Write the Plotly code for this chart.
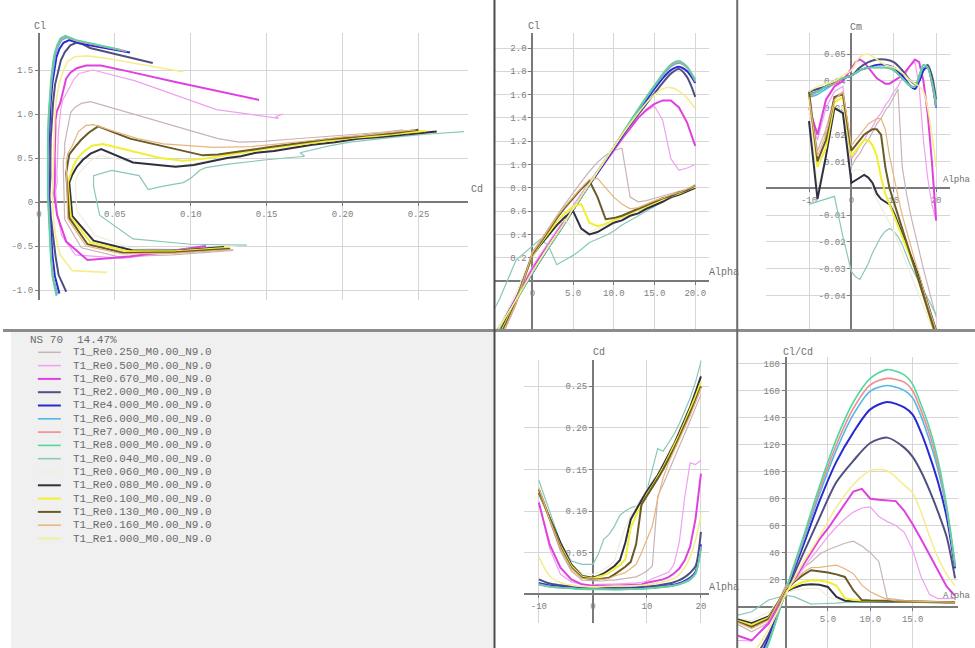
import numpy as np
import plotly.graph_objects as go

W, H = 975, 648

# ---------------- data ----------------
ALPHA_FINE = [-10, -8, -6, -4, -2, 0, 1, 2, 3, 4, 5, 6, 7, 8, 9, 10, 11, 12, 13, 14, 15, 16, 17, 18, 19, 20]
ALPHA_COARSE = [-10, -8, -6, -4, -2, 0, 2, 4, 6, 8, 10, 12, 14, 15, 16, 17, 18, 19, 20]

LEGEND_HEADER = ["NS 70", "14.47%"]
POLAR_NAMES = [
    "T1_Re0.250_M0.00_N9.0", "T1_Re0.500_M0.00_N9.0", "T1_Re0.670_M0.00_N9.0",
    "T1_Re2.000_M0.00_N9.0", "T1_Re4.000_M0.00_N9.0", "T1_Re6.000_M0.00_N9.0",
    "T1_Re7.000_M0.00_N9.0", "T1_Re8.000_M0.00_N9.0", "T1_Re0.040_M0.00_N9.0",
    "T1_Re0.060_M0.00_N9.0", "T1_Re0.080_M0.00_N9.0", "T1_Re0.100_M0.00_N9.0",
    "T1_Re0.130_M0.00_N9.0", "T1_Re0.160_M0.00_N9.0", "T1_Re1.000_M0.00_N9.0",
]
POLAR_COLORS = [
    "#c8b4b4", "#f0a0f0", "#e040e0", "#505080", "#2a2ad0", "#50b8e8", "#f08c8c",
    "#50d8a0", "#88c8b8", "#eeeedd", "#303040", "#f0f030", "#6a5a28", "#e8b47c", "#f4ee90",
]
POLAR_WIDTHS = [1.2, 1.2, 2, 2, 2, 1.6, 1.6, 1.6, 1.2, 1.2, 2, 2, 2, 1.2, 1.6]

# Re 0.250
CL_RE0250 = [-0.55, -0.60, -0.62, -0.52, -0.20, 0.25, 0.35, 0.46, 0.56, 0.66, 0.76, 0.85, 0.94, 1.02, 1.08, 1.12, 1.14, 0.72, 0.68, 0.69, 0.71, 0.73, 0.75, 0.77, 0.79, 0.82]
CD_RE0250 = [0.128, 0.088, 0.052, 0.028, 0.017, 0.016, 0.016, 0.016, 0.017, 0.017, 0.018, 0.019, 0.020, 0.021, 0.024, 0.028, 0.034, 0.118, 0.132, 0.148, 0.163, 0.178, 0.193, 0.208, 0.224, 0.240]
CM_RE0250 = [0.034, 0.014, 0.022, 0.034, 0.036, 0.008, 0.011, 0.013, 0.016, 0.018, 0.021, 0.024, 0.026, 0.029, 0.031, 0.034, 0.037, 0.008, -0.002, -0.010, -0.017, -0.024, -0.030, -0.036, -0.042, -0.048]
# Re 0.500
CL_RE0500 = [-0.52, -0.64, -0.60, -0.38, -0.13, 0.12, 0.23, 0.33, 0.44, 0.54, 0.65, 0.75, 0.86, 0.96, 1.06, 1.16, 1.25, 1.33, 1.40, 1.46, 1.50, 1.38, 1.05, 0.95, 0.97, 1.00]
CD_RE0500 = [0.112, 0.055, 0.024, 0.015, 0.012, 0.0110, 0.0121, 0.0118, 0.0122, 0.0123, 0.0125, 0.0127, 0.0132, 0.0137, 0.0145, 0.0157, 0.0187, 0.0211, 0.0233, 0.0265, 0.0357, 0.063, 0.117, 0.158, 0.156, 0.161]
CM_RE0500 = [0.028, 0.018, 0.030, 0.036, 0.038, 0.011, 0.013, 0.016, 0.018, 0.021, 0.023, 0.026, 0.028, 0.031, 0.033, 0.036, 0.038, 0.041, 0.043, 0.046, 0.047, 0.038, 0.018, 0.004, -0.006, -0.012]
# Re 0.670
CL_RE0670 = [-0.50, -0.62, -0.66, -0.45, -0.15, 0.10, 0.21, 0.31, 0.42, 0.52, 0.62, 0.73, 0.83, 0.93, 1.03, 1.12, 1.22, 1.31, 1.40, 1.47, 1.52, 1.55, 1.55, 1.49, 1.36, 1.16]
CD_RE0670 = [0.110, 0.060, 0.032, 0.018, 0.012, 0.0100, 0.0105, 0.0103, 0.0105, 0.0104, 0.0107, 0.0109, 0.0109, 0.0109, 0.0118, 0.0140, 0.0154, 0.0166, 0.0179, 0.0207, 0.0249, 0.0310, 0.0408, 0.0573, 0.0907, 0.145]
CM_RE0670 = [0.030, 0.020, 0.033, 0.038, 0.040, 0.045, 0.047, 0.048, 0.047, 0.045, 0.043, 0.041, 0.040, 0.039, 0.039, 0.040, 0.041, 0.042, 0.044, 0.046, 0.048, 0.047, 0.040, 0.028, 0.010, -0.012]
# Re 2.000
CL_RE2000 = [-1.02, -0.83, -0.62, -0.39, -0.16, 0.07, 0.29, 0.50, 0.72, 0.93, 1.14, 1.34, 1.52, 1.61, 1.70, 1.78, 1.82, 1.75, 1.58]
CD_RE2000 = [0.018, 0.013, 0.011, 0.0095, 0.0078, 0.0070, 0.0076, 0.0076, 0.0078, 0.0086, 0.0094, 0.0107, 0.0129, 0.0145, 0.0170, 0.0207, 0.026, 0.0337, 0.075]
CM_RE2000 = [0.036, 0.037, 0.038, 0.040, 0.041, 0.042, 0.045, 0.047, 0.048, 0.048, 0.047, 0.044, 0.040, 0.039, 0.040, 0.044, 0.046, 0.042, 0.033]
# Re 4.000
CL_RE4000 = [-1.04, -0.84, -0.62, -0.39, -0.16, 0.07, 0.29, 0.50, 0.72, 0.93, 1.14, 1.35, 1.55, 1.65, 1.74, 1.81, 1.84, 1.80, 1.70]
CD_RE4000 = [0.0135, 0.0105, 0.0090, 0.0080, 0.0070, 0.0065, 0.0066, 0.0064, 0.0067, 0.0072, 0.0078, 0.0089, 0.0105, 0.0116, 0.0135, 0.0162, 0.0200, 0.0270, 0.0600]
CM_RE4000 = [0.035, 0.036, 0.038, 0.039, 0.041, 0.042, 0.044, 0.045, 0.046, 0.046, 0.045, 0.042, 0.038, 0.037, 0.040, 0.044, 0.045, 0.040, 0.030]
# Re 6.000
CL_RE6000 = [-1.05, -0.85, -0.63, -0.40, -0.17, 0.07, 0.29, 0.50, 0.72, 0.94, 1.15, 1.36, 1.57, 1.67, 1.76, 1.84, 1.87, 1.83, 1.71]
CD_RE6000 = [0.0122, 0.0095, 0.0082, 0.0074, 0.0066, 0.0062, 0.0062, 0.0060, 0.0062, 0.0066, 0.0072, 0.0083, 0.0098, 0.0108, 0.0125, 0.0150, 0.0185, 0.0255, 0.0580]
CM_RE6000 = [0.034, 0.035, 0.037, 0.039, 0.041, 0.042, 0.044, 0.045, 0.045, 0.045, 0.044, 0.041, 0.038, 0.038, 0.041, 0.045, 0.045, 0.039, 0.030]
# Re 7.000
CL_RE7000 = [-1.06, -0.85, -0.63, -0.40, -0.17, 0.07, 0.29, 0.50, 0.72, 0.94, 1.15, 1.37, 1.58, 1.68, 1.77, 1.85, 1.88, 1.83, 1.72]
CD_RE7000 = [0.0118, 0.0092, 0.0080, 0.0072, 0.0064, 0.0060, 0.0060, 0.0058, 0.0060, 0.0064, 0.0070, 0.0081, 0.0095, 0.0105, 0.0122, 0.0145, 0.0180, 0.0250, 0.0560]
CM_RE7000 = [0.034, 0.036, 0.038, 0.039, 0.041, 0.042, 0.044, 0.045, 0.045, 0.045, 0.044, 0.041, 0.038, 0.038, 0.042, 0.046, 0.045, 0.039, 0.031]
# Re 8.000
CL_RE8000 = [-1.07, -0.86, -0.64, -0.40, -0.17, 0.07, 0.29, 0.50, 0.72, 0.94, 1.15, 1.37, 1.58, 1.68, 1.78, 1.86, 1.89, 1.84, 1.73]
CD_RE8000 = [0.0115, 0.0090, 0.0078, 0.0070, 0.0062, 0.0058, 0.0058, 0.0056, 0.0058, 0.0062, 0.0068, 0.0078, 0.0092, 0.0102, 0.0119, 0.0141, 0.0175, 0.0245, 0.0540]
CM_RE8000 = [0.035, 0.036, 0.038, 0.040, 0.041, 0.042, 0.044, 0.045, 0.045, 0.045, 0.044, 0.041, 0.038, 0.038, 0.042, 0.046, 0.045, 0.040, 0.032]
# Re 0.040
CL_RE0040 = [-0.49, -0.48, -0.42, -0.15, 0.18, 0.30, 0.36, 0.30, 0.14, 0.18, 0.22, 0.27, 0.33, 0.36, 0.39, 0.43, 0.48, 0.52, 0.56, 0.60, 0.64, 0.68, 0.71, 0.74, 0.77, 0.80]
CD_RE0040 = [0.137, 0.100, 0.062, 0.040, 0.036, 0.036, 0.048, 0.066, 0.072, 0.082, 0.095, 0.100, 0.104, 0.106, 0.110, 0.125, 0.150, 0.175, 0.172, 0.182, 0.192, 0.205, 0.220, 0.236, 0.255, 0.280]
CM_RE0040 = [-0.006, -0.005, -0.004, -0.003, -0.018, -0.031, -0.033, -0.034, -0.031, -0.028, -0.024, -0.021, -0.018, -0.016, -0.015, -0.016, -0.018, -0.021, -0.025, -0.029, -0.032, -0.035, -0.038, -0.041, -0.044, -0.047]
# Re 0.060
CL_RE0060 = [-0.50, -0.54, -0.52, -0.38, -0.10, 0.24, 0.32, 0.40, 0.47, 0.53, 0.45, 0.41, 0.42, 0.45, 0.48, 0.51, 0.54, 0.57, 0.60, 0.63, 0.66, 0.69, 0.72, 0.75, 0.78, 0.81]
CD_RE0060 = [0.130, 0.095, 0.060, 0.037, 0.025, 0.024, 0.026, 0.030, 0.034, 0.040, 0.062, 0.080, 0.095, 0.106, 0.116, 0.126, 0.136, 0.146, 0.158, 0.170, 0.183, 0.197, 0.211, 0.226, 0.242, 0.260]
CM_RE0060 = [0.030, 0.000, 0.012, 0.030, 0.030, 0.006, 0.007, 0.007, 0.006, 0.004, 0.000, -0.004, -0.007, -0.010, -0.013, -0.016, -0.020, -0.024, -0.028, -0.032, -0.036, -0.040, -0.044, -0.048, -0.052, -0.056]
# Re 0.080
CL_RE0080 = [-0.51, -0.55, -0.55, -0.44, -0.16, 0.22, 0.31, 0.40, 0.48, 0.55, 0.60, 0.45, 0.40, 0.42, 0.46, 0.50, 0.52, 0.56, 0.58, 0.62, 0.65, 0.68, 0.72, 0.74, 0.77, 0.80]
CD_RE0080 = [0.122, 0.092, 0.062, 0.036, 0.022, 0.020, 0.022, 0.025, 0.029, 0.034, 0.041, 0.062, 0.090, 0.102, 0.113, 0.124, 0.133, 0.143, 0.155, 0.168, 0.180, 0.195, 0.210, 0.225, 0.243, 0.262]
CM_RE0080 = [0.025, -0.004, 0.012, 0.030, 0.028, 0.002, 0.003, 0.004, 0.005, 0.004, 0.002, -0.002, -0.004, -0.005, -0.006, -0.009, -0.013, -0.017, -0.021, -0.025, -0.029, -0.033, -0.038, -0.043, -0.048, -0.053]
# Re 0.100
CL_RE0100 = [-0.52, -0.56, -0.56, -0.46, -0.17, 0.22, 0.32, 0.42, 0.51, 0.58, 0.64, 0.66, 0.50, 0.47, 0.49, 0.52, 0.55, 0.58, 0.61, 0.64, 0.67, 0.70, 0.73, 0.75, 0.78, 0.81]
CD_RE0100 = [0.125, 0.090, 0.058, 0.034, 0.021, 0.019, 0.021, 0.023, 0.026, 0.030, 0.035, 0.042, 0.080, 0.095, 0.108, 0.120, 0.130, 0.141, 0.152, 0.165, 0.178, 0.192, 0.207, 0.222, 0.238, 0.255]
CM_RE0100 = [0.035, 0.008, 0.015, 0.032, 0.034, 0.012, 0.014, 0.016, 0.018, 0.018, 0.016, 0.012, 0.004, -0.002, -0.006, -0.010, -0.014, -0.018, -0.022, -0.026, -0.030, -0.035, -0.040, -0.045, -0.050, -0.056]
# Re 0.130
CL_RE0130 = [-0.53, -0.57, -0.58, -0.48, -0.18, 0.23, 0.33, 0.44, 0.54, 0.63, 0.71, 0.79, 0.86, 0.72, 0.53, 0.54, 0.56, 0.59, 0.62, 0.65, 0.68, 0.71, 0.73, 0.76, 0.78, 0.82]
CD_RE0130 = [0.126, 0.090, 0.056, 0.032, 0.020, 0.018, 0.018, 0.019, 0.020, 0.024, 0.028, 0.033, 0.039, 0.060, 0.108, 0.118, 0.128, 0.139, 0.150, 0.162, 0.175, 0.189, 0.203, 0.218, 0.233, 0.250]
CM_RE0130 = [0.036, 0.010, 0.018, 0.034, 0.035, 0.014, 0.016, 0.018, 0.020, 0.021, 0.022, 0.022, 0.020, 0.008, 0.000, -0.005, -0.010, -0.015, -0.020, -0.025, -0.030, -0.035, -0.040, -0.045, -0.050, -0.055]
# Re 0.160
CL_RE0160 = [-0.54, -0.58, -0.59, -0.50, -0.19, 0.24, 0.34, 0.45, 0.55, 0.64, 0.72, 0.80, 0.87, 0.88, 0.80, 0.72, 0.66, 0.62, 0.63, 0.66, 0.69, 0.71, 0.74, 0.76, 0.79, 0.82]
CD_RE0160 = [0.128, 0.090, 0.055, 0.031, 0.019, 0.018, 0.018, 0.018, 0.019, 0.022, 0.024, 0.026, 0.031, 0.036, 0.050, 0.065, 0.082, 0.115, 0.140, 0.158, 0.172, 0.186, 0.200, 0.215, 0.231, 0.248]
CM_RE0160 = [0.034, 0.012, 0.020, 0.033, 0.036, 0.016, 0.018, 0.020, 0.022, 0.024, 0.025, 0.026, 0.026, 0.022, 0.012, 0.004, -0.003, -0.010, -0.016, -0.022, -0.027, -0.032, -0.038, -0.043, -0.048, -0.053]
# Re 1.000
CL_RE1000 = [-0.80, -0.78, -0.60, -0.39, -0.16, 0.08, 0.30, 0.51, 0.73, 0.94, 1.15, 1.35, 1.53, 1.60, 1.65, 1.66, 1.63, 1.57, 1.48]
CD_RE1000 = [0.045, 0.022, 0.014, 0.011, 0.0095, 0.0089, 0.0094, 0.0098, 0.0099, 0.0104, 0.0114, 0.0134, 0.0170, 0.0190, 0.0236, 0.0320, 0.0450, 0.0650, 0.0950]
CM_RE1000 = [0.036, 0.038, 0.039, 0.040, 0.042, 0.044, 0.049, 0.050, 0.048, 0.046, 0.045, 0.043, 0.040, 0.039, 0.038, 0.036, 0.030, 0.020, 0.008]

SERIES_DATA = [
    (ALPHA_FINE, CL_RE0250, CD_RE0250, CM_RE0250),
    (ALPHA_FINE, CL_RE0500, CD_RE0500, CM_RE0500),
    (ALPHA_FINE, CL_RE0670, CD_RE0670, CM_RE0670),
    (ALPHA_COARSE, CL_RE2000, CD_RE2000, CM_RE2000),
    (ALPHA_COARSE, CL_RE4000, CD_RE4000, CM_RE4000),
    (ALPHA_COARSE, CL_RE6000, CD_RE6000, CM_RE6000),
    (ALPHA_COARSE, CL_RE7000, CD_RE7000, CM_RE7000),
    (ALPHA_COARSE, CL_RE8000, CD_RE8000, CM_RE8000),
    (ALPHA_FINE, CL_RE0040, CD_RE0040, CM_RE0040),
    (ALPHA_FINE, CL_RE0060, CD_RE0060, CM_RE0060),
    (ALPHA_FINE, CL_RE0080, CD_RE0080, CM_RE0080),
    (ALPHA_FINE, CL_RE0100, CD_RE0100, CM_RE0100),
    (ALPHA_FINE, CL_RE0130, CD_RE0130, CM_RE0130),
    (ALPHA_FINE, CL_RE0160, CD_RE0160, CM_RE0160),
    (ALPHA_COARSE, CL_RE1000, CD_RE1000, CM_RE1000),
]

# ---------------- panel geometry (pixels) ----------------
PANELS = {
    "A": dict(x0=36, sx=1523, xl=36, xr=466, y0=202, sy=88, yt=33, yb=300),
    "B": dict(x0=531, sx=8.17, xl=494, xr=708, y0=281, sy=116.5, yt=33, yb=330),
    "C": dict(x0=851, sx=4.25, xl=765, xr=950, y0=188.3, sy=2683, yt=33, yb=330),
    "D": dict(x0=591.7, sx=5.42, xl=523, xr=708, y0=594.3, sy=832, yt=360, yb=623),
    "E": dict(x0=785, sx=8.5, xl=737, xr=958, y0=606.7, sy=1.35, yt=357, yb=648),
}

TICK_FONT = dict(family="Liberation Mono", size=9, color="#808080")
COMMON = dict(showline=True, linecolor="#7a7a7a", linewidth=2, showgrid=True,
              gridcolor="#d6d6d6", gridwidth=1, zeroline=False, ticks="outside",
              ticklen=3, tickcolor="#7a7a7a", tickwidth=1, tickfont=TICK_FONT,
              tickmode="array", layer="below traces", fixedrange=True)


def make_axes(p, xt, xtt, yt, ytt):
    xa = dict(COMMON, domain=[p["xl"] / W, p["xr"] / W],
              range=[(p["xl"] - p["x0"]) / p["sx"], (p["xr"] - p["x0"]) / p["sx"]],
              anchor="free", position=1 - p["y0"] / H, side="bottom",
              tickvals=xt, ticktext=xtt)
    ya = dict(COMMON, domain=[1 - p["yb"] / H, 1 - p["yt"] / H],
              range=[(p["y0"] - p["yb"]) / p["sy"], (p["y0"] - p["yt"]) / p["sy"]],
              anchor="free", position=p["x0"] / W, side="left",
              tickvals=yt, ticktext=ytt)
    return xa, ya


ax_A = make_axes(PANELS["A"], [0, 0.05, 0.10, 0.15, 0.20, 0.25], ["0", "0.05", "0.10", "0.15", "0.20", "0.25"],
                 [-1.0, -0.5, 0, 0.5, 1.0, 1.5], ["-1.0", "-0.5", "0", "0.5", "1.0", "1.5"])
ax_B = make_axes(PANELS["B"], [0, 5, 10, 15, 20], ["0", "5.0", "10.0", "15.0", "20.0"],
                 [0.2, 0.4, 0.6, 0.8, 1.0, 1.2, 1.4, 1.6, 1.8, 2.0],
                 ["0.2", "0.4", "0.6", "0.8", "1.0", "1.2", "1.4", "1.6", "1.8", "2.0"])
ax_C = make_axes(PANELS["C"], [-10, 0, 10, 20], ["-10", "0", "10", "20"],
                 [-0.04, -0.03, -0.02, -0.01, 0.01, 0.02, 0.03, 0.04, 0.05],
                 ["-0.04", "-0.03", "-0.02", "-0.01", "0.01", "0.02", "0.03", "0.04", "0.05"])
ax_D = make_axes(PANELS["D"], [-10, 0, 10, 20], ["-10", "0", "10", "20"],
                 [0.05, 0.10, 0.15, 0.20, 0.25], ["0.05", "0.10", "0.15", "0.20", "0.25"])
ax_E = make_axes(PANELS["E"], [5, 10, 15], ["5.0", "10.0", "15.0"],
                 [20, 40, 60, 80, 100, 120, 140, 160, 180],
                 ["20", "40", "60", "80", "100", "120", "140", "160", "180"])

fig = go.Figure()

for name, color, width, (alpha, cl, cd, cm) in zip(POLAR_NAMES, POLAR_COLORS, POLAR_WIDTHS, SERIES_DATA):
    a = np.array(alpha, dtype=float)
    l = np.array(cl, dtype=float)
    d = np.array(cd, dtype=float)
    m = np.array(cm, dtype=float)
    if alpha is ALPHA_COARSE:
        lst = dict(color=color, width=width, shape="spline", smoothing=0.8)
    else:
        lst = dict(color=color, width=width)
    base = dict(mode="lines", showlegend=False, hoverinfo="skip", name=name)
    fig.add_trace(go.Scatter(x=d, y=l, xaxis="x", yaxis="y", line=dict(color=color, width=width), **base))
    fig.add_trace(go.Scatter(x=a, y=l, xaxis="x2", yaxis="y2", line=lst, **base))
    fig.add_trace(go.Scatter(x=a, y=m, xaxis="x3", yaxis="y3", line=lst, **base))
    fig.add_trace(go.Scatter(x=a, y=d, xaxis="x4", yaxis="y4", line=lst, **base))
    fig.add_trace(go.Scatter(x=a, y=l / d, xaxis="x5", yaxis="y5", line=lst, **base))


def ann(text, px, py, xanchor="center", size=10, color="#707070"):
    return dict(text=text, x=px / W, y=1 - py / H, xref="paper", yref="paper",
                xanchor=xanchor, yanchor="middle", showarrow=False,
                font=dict(family="Liberation Mono", size=size, color=color))


annotations = [
    ann("Cl", 37, 27), ann("Cd", 467, 190, "left"),
    ann("Cl", 533, 27), ann("Alpha", 706, 272, "left"),
    ann("Cm", 856, 28), ann("Alpha", 973, 180, "right", 9),
    ann("Cd", 598, 352), ann("Alpha", 706, 587, "left"),
    ann("Cl/Cd", 797, 352), ann("Alpha", 973, 596, "right", 9),
]

shapes = [
    dict(type="rect", xref="paper", yref="paper", x0=8 / W, x1=492 / W, y0=0, y1=1 - 332 / H,
         fillcolor="#f0f0f0", line=dict(width=0), layer="below"),
]

# legend (header + rows)
annotations.append(ann(LEGEND_HEADER[0], 25, 340, "left", 11, "#6a6a6a"))
annotations.append(ann(LEGEND_HEADER[1], 72, 340, "left", 11, "#6a6a6a"))
for k, (name, color, width) in enumerate(zip(POLAR_NAMES, POLAR_COLORS, POLAR_WIDTHS)):
    ry = 352.3 + 13.3 * k
    annotations.append(ann(name, 68, ry, "left", 11, "#6a6a6a"))
    shapes.append(dict(type="line", xref="paper", yref="paper", x0=35 / W, x1=58 / W,
                       y0=1 - ry / H, y1=1 - ry / H, line=dict(color=color, width=max(width, 1.5)),
                       layer="above"))

# panel dividers
shapes += [
    dict(type="line", xref="paper", yref="paper", x0=0, x1=1, y0=1 - 330.5 / H, y1=1 - 330.5 / H,
         line=dict(color="#8c8c8c", width=3), layer="above"),
    dict(type="line", xref="paper", yref="paper", x0=493 / W, x1=493 / W, y0=0, y1=1,
         line=dict(color="#4a4a4a", width=2), layer="above"),
    dict(type="line", xref="paper", yref="paper", x0=736.5 / W, x1=736.5 / W, y0=0, y1=1,
         line=dict(color="#6a6a6a", width=2), layer="above"),
]

fig.update_layout(
    width=W, height=H, margin=dict(l=0, r=0, t=0, b=0),
    paper_bgcolor="white", plot_bgcolor="white",
    font=dict(family="Liberation Mono", size=9, color="#808080"),
    hovermode=False, showlegend=False,
    xaxis=ax_A[0], yaxis=ax_A[1],
    xaxis2=ax_B[0], yaxis2=ax_B[1],
    xaxis3=ax_C[0], yaxis3=ax_C[1],
    xaxis4=ax_D[0], yaxis4=ax_D[1],
    xaxis5=ax_E[0], yaxis5=ax_E[1],
    annotations=annotations, shapes=shapes,
)

fig.write_html("out.html", config={"displayModeBar": False, "staticPlot": True},
               post_script="document.body.style.margin='0';")
